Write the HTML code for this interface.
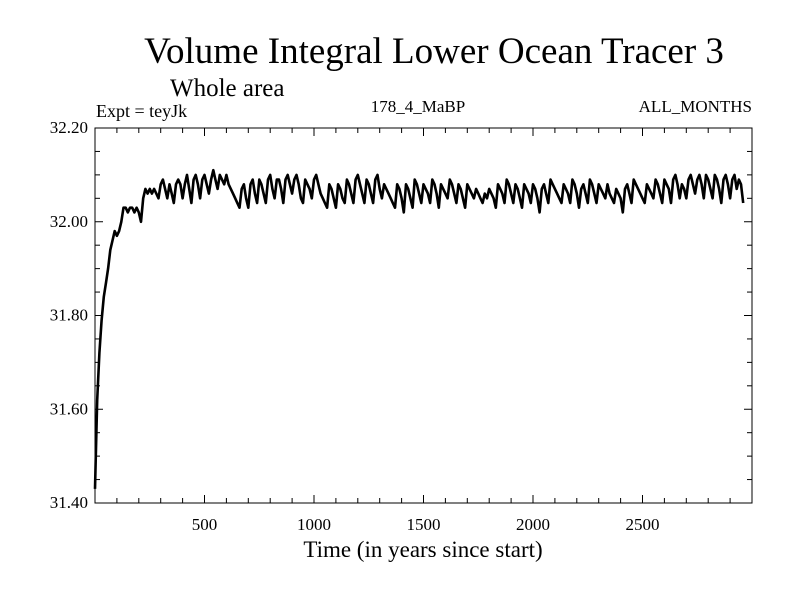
<!DOCTYPE html>
<html><head><meta charset="utf-8"><style>
body{margin:0;background:#fff;}
svg{display:block;font-family:"Liberation Serif",serif;}
</style></head><body>
<svg id="chart" width="800" height="600" xmlns="http://www.w3.org/2000/svg">
<rect width="800" height="600" fill="#fff"/>
<text x="434" y="63" font-size="37" text-anchor="middle">Volume Integral Lower Ocean Tracer 3</text>
<text x="170" y="96" font-size="25">Whole area</text>
<text x="96" y="117" font-size="18">Expt = teyJk</text>
<text x="418" y="112" font-size="17" text-anchor="middle">178_4_MaBP</text>
<text x="752" y="112" font-size="17" text-anchor="end">ALL_MONTHS</text>
<text x="423" y="557" font-size="23" text-anchor="middle">Time (in years since start)</text>
<g id="axes"></g>
<path id="series" fill="none" stroke="#000" stroke-width="2.6" stroke-linejoin="round"/>
<rect x="95" y="128" width="657" height="375" fill="none" stroke="#000" stroke-width="1"/>
</svg>
<script>
const xTicks=[500,1000,1500,2000,2500];
const yTicks=[31.40,31.60,31.80,32.00,32.20];
const yLabels=["31.40","31.60","31.80","32.00","32.20"];
const stepYears=10;
const values=[31.43,31.62,31.72,31.79,31.84,31.87,31.90,31.94,31.96,31.98,31.97,31.98,32.00,32.03,32.03,32.02,32.03,32.03,32.02,32.03,32.02,32.00,32.05,32.07,32.06,32.07,32.06,32.07,32.06,32.05,
32.08,32.09,32.07,32.05,32.08,32.06,32.04,32.08,32.09,32.08,32.05,32.08,32.10,32.07,32.04,32.09,32.10,32.08,32.05,32.09,32.10,32.08,32.06,32.09,32.11,32.09,32.07,32.10,32.09,32.08,
32.10,32.08,32.07,32.06,32.05,32.04,32.03,32.07,32.08,32.05,32.03,32.08,32.09,32.06,32.04,32.09,32.08,32.06,32.04,32.09,32.10,32.07,32.05,32.09,32.09,32.07,32.04,32.09,32.10,32.08,
32.06,32.09,32.10,32.08,32.05,32.04,32.09,32.08,32.07,32.05,32.09,32.10,32.08,32.06,32.05,32.04,32.03,32.08,32.07,32.05,32.03,32.08,32.07,32.05,32.04,32.09,32.08,32.06,32.04,32.09,
32.10,32.08,32.06,32.04,32.09,32.08,32.06,32.04,32.09,32.10,32.07,32.05,32.08,32.07,32.06,32.05,32.04,32.03,32.08,32.07,32.05,32.02,32.08,32.07,32.05,32.03,32.09,32.08,32.06,32.04,
32.08,32.07,32.06,32.04,32.09,32.08,32.06,32.03,32.08,32.07,32.06,32.05,32.09,32.08,32.06,32.04,32.08,32.07,32.05,32.03,32.08,32.07,32.06,32.05,32.07,32.06,32.05,32.04,32.06,32.05,
32.07,32.06,32.05,32.03,32.08,32.07,32.06,32.04,32.09,32.08,32.06,32.04,32.08,32.07,32.05,32.03,32.08,32.07,32.06,32.04,32.08,32.07,32.05,32.02,32.07,32.08,32.06,32.04,32.09,32.08,
32.07,32.06,32.05,32.04,32.08,32.07,32.06,32.04,32.09,32.08,32.06,32.03,32.07,32.08,32.06,32.04,32.09,32.08,32.06,32.04,32.08,32.07,32.06,32.05,32.08,32.06,32.05,32.04,32.07,32.06,
32.05,32.02,32.07,32.08,32.06,32.04,32.09,32.08,32.07,32.06,32.05,32.04,32.08,32.07,32.06,32.05,32.09,32.08,32.06,32.04,32.09,32.08,32.07,32.04,32.09,32.10,32.08,32.05,32.08,32.07,
32.05,32.09,32.10,32.08,32.06,32.09,32.10,32.08,32.05,32.10,32.09,32.07,32.05,32.10,32.09,32.07,32.04,32.09,32.10,32.08,32.05,32.09,32.10,32.07,32.09,32.08,32.04];
const X0=95,X1=752,Y0=503,Y1=128,xMax=3000,yMin=31.40,yMax=32.20;
const xs=t=>X0+(t/xMax)*(X1-X0);
const ys=v=>Y0-(v-yMin)/(yMax-yMin)*(Y0-Y1);
const NS="http://www.w3.org/2000/svg";
const g=document.getElementById('axes');
function mk(tag,attrs){const e=document.createElementNS(NS,tag);for(const k in attrs)e.setAttribute(k,attrs[k]);return e;}
for(let t=100;t<xMax;t+=100){
  const major=t%500===0,len=major?8:5;
  const x=xs(t);
  const a=mk('line',{x1:x,x2:x,y1:Y0,y2:Y0-len,stroke:'#000'});
  
  
  g.appendChild(a);
  const b=mk('line',{x1:x,x2:x,y1:Y1,y2:Y1+len,stroke:'#000'});
  
  
  g.appendChild(b);
}
xTicks.forEach(t=>{
  const e=mk('text',{x:xs(t),y:Y0+27,'font-size':17,'text-anchor':'middle'});
  e.textContent=String(t);
  
  
  g.appendChild(e);
});
for(let i=1;i<16;i++){
  const v=yMin+i*0.05,major=i%4===0,len=major?8:5,y=ys(v);
  const a=mk('line',{x1:X0,x2:X0+len,y1:y,y2:y,stroke:'#000'});
  
  
  g.appendChild(a);
  const b=mk('line',{x1:X1,x2:X1-len,y1:y,y2:y,stroke:'#000'});
  
  
  g.appendChild(b);
}
yTicks.forEach((v,i)=>{
  const e=mk('text',{x:X0-7,y:ys(v)+5,'font-size':17,'text-anchor':'end'});
  e.textContent=yLabels[i];
  
  
  g.appendChild(e);
});
let d='';
values.forEach((v,i)=>{d+=(i?'L':'M')+xs(Math.min(i*stepYears,xMax)).toFixed(1)+','+ys(v).toFixed(1);});
document.getElementById('series').setAttribute('d',d);
</script>
</body></html>
